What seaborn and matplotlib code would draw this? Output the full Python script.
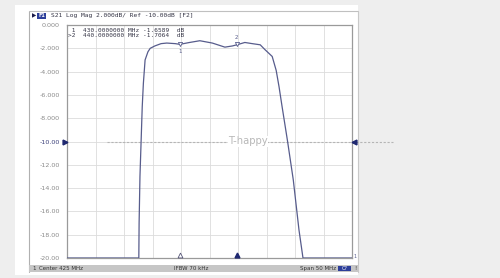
import numpy as np
import pandas as pd
import matplotlib
matplotlib.use("Agg")
import matplotlib.pyplot as plt
import seaborn as sns
from matplotlib.patches import Rectangle
from matplotlib.lines import Line2D

# ---- data ----
freq_mhz = [400.0, 412.6, 412.65, 412.8, 413.0, 413.2, 413.4, 413.7, 414.2, 414.6,
            415.4, 416.5, 417.5, 419.0, 419.8, 421.5, 423.3, 425.5, 427.7, 429.0,
            429.8, 431.2, 432.5, 433.9, 434.7, 436.0, 436.7, 437.2, 437.7, 438.7,
            439.7, 440.7, 441.4, 450.0]
s21_db = [-20.0, -20.0, -17.0, -13.0, -10.0, -7.0, -5.0, -3.0, -2.3, -2.0,
          -1.8, -1.6, -1.55, -1.6, -1.66, -1.5, -1.35, -1.55, -1.9, -1.8,
          -1.7, -1.5, -1.6, -1.7, -2.1, -2.7, -3.9, -5.3, -6.9, -10.0,
          -13.3, -17.6, -20.0, -20.0]
yticks = [0, -2, -4, -6, -8, -10, -12, -14, -16, -18, -20]
ytick_labels = ["0.000", "-2.000", "-4.000", "-6.000", "-8.000", "-10.00",
                "-12.00", "-14.00", "-16.00", "-18.00", "-20.00"]
marker_pos = [419.8, 429.8]
marker_val = [-1.66, -1.7]
marker_names = ["1", "2"]
readout = [" 1  430.0000000 MHz -1.6589  dB", ">2  440.0000000 MHz -1.7064  dB"]
header = "S21 Log Mag 2.000dB/ Ref -10.00dB [F2]"
ref_level = -10.0

W, H = 500, 278
fig = plt.figure(figsize=(W / 100, H / 100), dpi=100)
fig.patch.set_facecolor("#eeeeee")
sns.set_style("white")

def fx(x):
    return x / W

def fy(y):
    return 1 - y / H

# white panel
fig.patches.append(Rectangle((fx(15), fy(275)), fx(343), 270 / H, transform=fig.transFigure,
                             facecolor="white", edgecolor="none", zorder=-3))
# inner frame lines
fig.lines.append(Line2D([fx(29), fx(29)], [fy(11), fy(272)], transform=fig.transFigure,
                        color="#b0b0b0", lw=0.8, zorder=-2))
fig.lines.append(Line2D([fx(29), fx(358)], [fy(11), fy(11)], transform=fig.transFigure,
                        color="#c0c0c0", lw=0.8, zorder=-2))
fig.lines.append(Line2D([fx(358), fx(358)], [fy(11), fy(272)], transform=fig.transFigure,
                        color="#c8c8c8", lw=0.8, zorder=-2))
# bottom status bar
fig.patches.append(Rectangle((fx(29), fy(272)), fx(329), 7.5 / H, transform=fig.transFigure,
                             facecolor="#c6c6c6", edgecolor="none", zorder=-1))
fig.text(fx(32), fy(268.5), "1", fontsize=4, color="#333333", va="center", ha="left")
fig.text(fx(39), fy(268.5), "Center 425 MHz", fontsize=4, color="#333333", va="center", ha="left")
fig.text(fx(191), fy(268.5), "IFBW 70 kHz", fontsize=4, color="#333333", va="center", ha="center")
fig.text(fx(336), fy(268.5), "Span 50 MHz", fontsize=4, color="#333333", va="center", ha="right")
fig.patches.append(Rectangle((fx(338), fy(271)), fx(13), 5.5 / H, transform=fig.transFigure,
                             facecolor="#2d3f9a", edgecolor="none", zorder=-0.5))
fig.text(fx(344.5), fy(268.5), "C?", fontsize=3.5, color="white", va="center", ha="center", zorder=3)
fig.text(fx(355), fy(268.5), "!", fontsize=4, color="#333333", va="center", ha="center")

# header
fig.text(fx(32), fy(15.5), "\u25B6", fontsize=4, color="#1a1a4a", va="center", ha="left")
fig.patches.append(Rectangle((fx(37), fy(18.5)), fx(9), 6 / H, transform=fig.transFigure,
                             facecolor="#2d3f9a", edgecolor="none", zorder=-0.5))
fig.text(fx(41.5), fy(15.5), "F1", fontsize=3.5, color="white", va="center", ha="center",
         zorder=3, fontweight="bold")
fig.text(fx(51), fy(15.5), header, fontsize=4.5, family="DejaVu Sans Mono",
         color="#333344", va="center", ha="left")

# plot axes
ax = fig.add_axes([fx(67), fy(258), 285 / W, 233 / H])
ax.set_zorder(1)
ax.set_facecolor("white")
df = pd.DataFrame({"freq": freq_mhz, "s21": s21_db})
sns.lineplot(data=df, x="freq", y="s21", ax=ax, color="#575c8c", lw=0.9, zorder=3)
ax.set_xlim(400, 450)
ax.set_ylim(-20, 0)
ax.set_xticks(np.arange(400, 451, 5))
ax.set_xticklabels([])
ax.set_yticks(yticks)
ax.set_yticklabels(ytick_labels, fontsize=4.6, color="#8a8a8a")
for lbl in ax.get_yticklabels():
    if lbl.get_text() == "-10.00":
        lbl.set_color("#3a3f7a")
ax.tick_params(axis="both", length=0, pad=5)
ax.grid(True, color="#dcdcdc", lw=0.6)
ax.set_axisbelow(True)
ax.set_xlabel("")
ax.set_ylabel("")
for s in ax.spines.values():
    s.set_color("#9a9a9a")
    s.set_linewidth(0.9)

# reference dashed line and watermark
ax.plot([407.0, 457.2], [ref_level, ref_level], ls=(0, (2, 1.5)), color="#b5b5b5",
        lw=0.8, clip_on=False, zorder=2)
ax.text(431.8, ref_level, "T-happy", fontsize=7.2, color="#b8b8b8", ha="center", va="center",
        zorder=2.5, bbox=dict(facecolor="white", edgecolor="none", pad=0.3))
# reference arrows
ax.plot([399.7], [ref_level], marker=">", ms=3.5, color="#1f2870", clip_on=False, zorder=5)
ax.plot([450.3], [ref_level], marker="<", ms=3.5, color="#1f2870", clip_on=False, zorder=5)

# markers on trace
for mp, mv, name in zip(marker_pos, marker_val, marker_names):
    ax.plot([mp], [mv + 0.05], marker="v", ms=3, mfc="white", mec="#575c8c", mew=0.6, zorder=4)
    if name == "1":
        ax.text(mp, mv - 0.65, name, fontsize=4, color="#575c8c", ha="center", va="center")
    else:
        ax.text(mp, mv + 0.6, name, fontsize=4, color="#575c8c", ha="center", va="center")

# bottom marker triangles
ax.plot([marker_pos[0]], [-19.75], marker="^", ms=3.5, mfc="white", mec="#555577", mew=0.6,
        clip_on=False, zorder=5)
ax.plot([marker_pos[1]], [-19.75], marker="^", ms=3.5, color="#1f2870", clip_on=False, zorder=5)
ax.text(450.2, -19.85, "1", fontsize=3.5, color="#575c8c", ha="left", va="center")

# readout text (drawn inside the axes so it sits above the grid)
for i, line in enumerate(readout):
    ax.text(fx(68), fy(30 + 5.5 * i), line, fontsize=4.4, family="DejaVu Sans Mono",
            color="#333344", va="center", ha="left", zorder=6, transform=fig.transFigure)

fig.savefig("out.png", dpi=100, facecolor=fig.get_facecolor())
